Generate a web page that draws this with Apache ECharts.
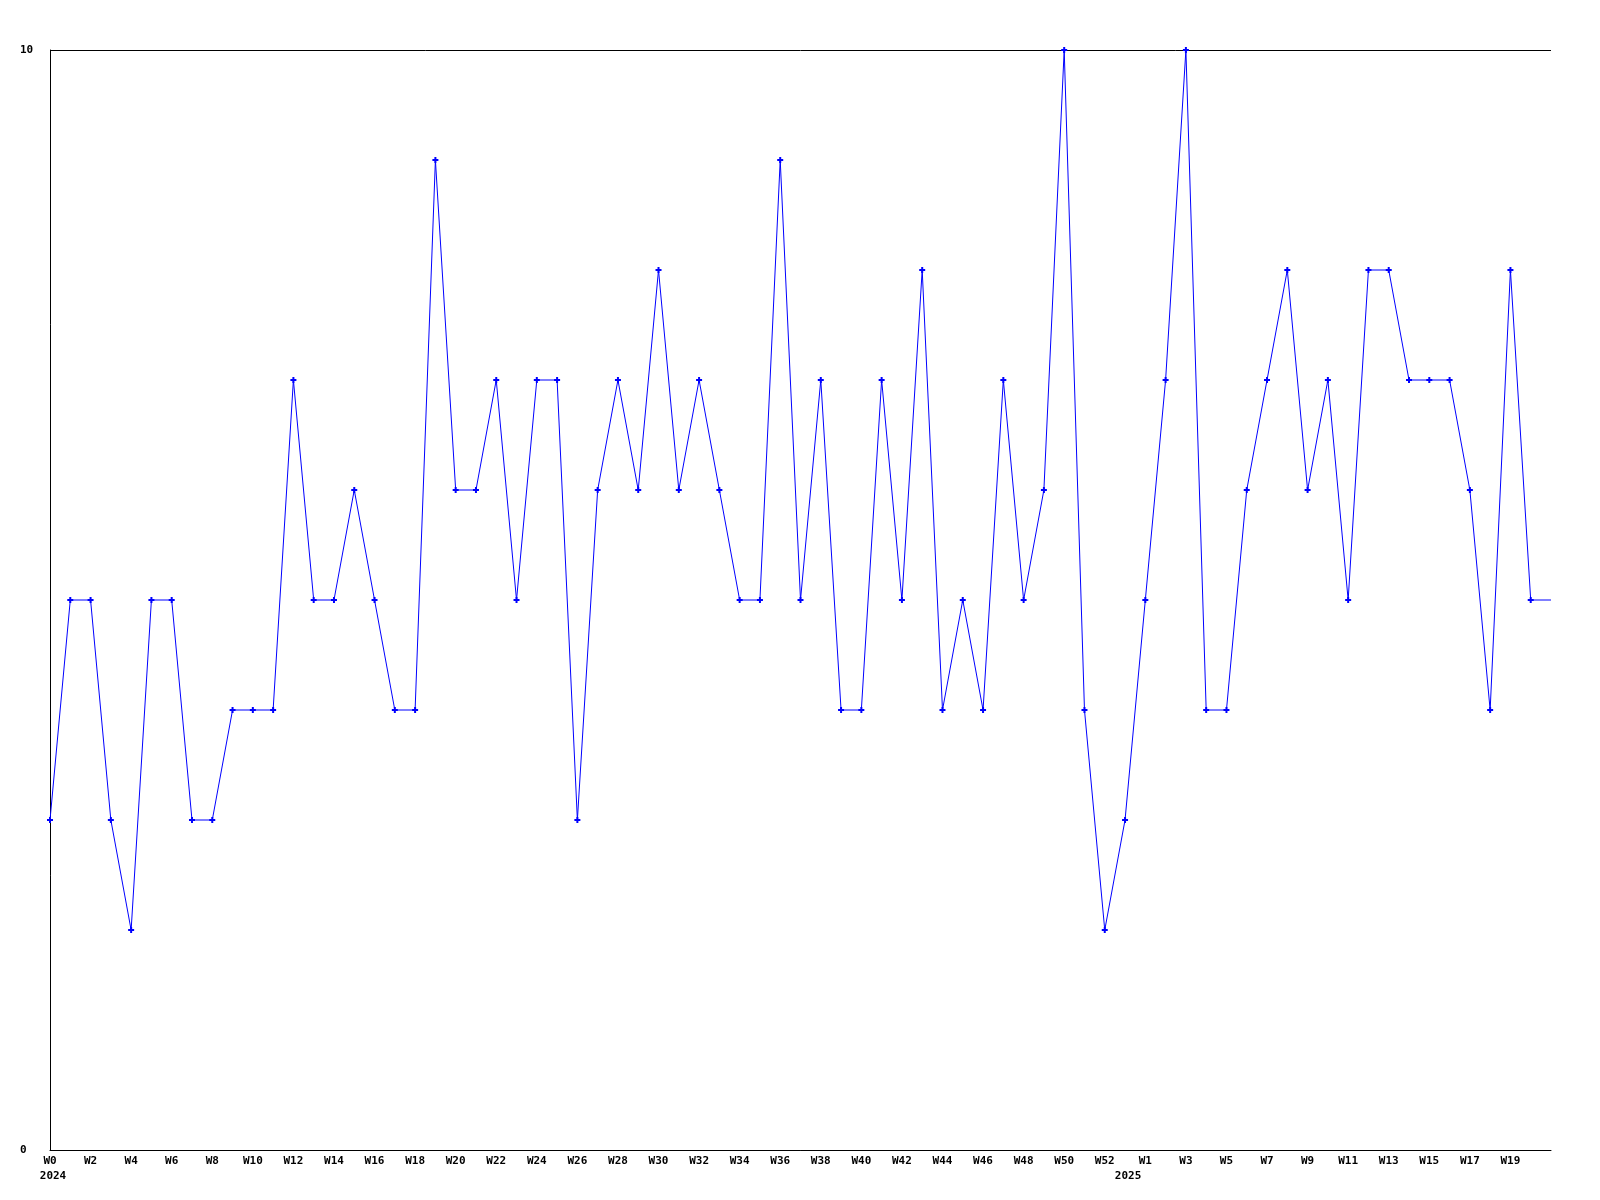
<!DOCTYPE html>
<html>
<head>
<meta charset="utf-8">
<script src="https://cdn.jsdelivr.net/npm/echarts@6/dist/echarts.min.js"></script>
<style>
html,body{margin:0;padding:0;background:#fff;}
#chart{width:1600px;height:1200px;}
</style>
</head>
<body>
<div id="chart"></div>
<script>
var weeks = ['W0','W1','W2','W3','W4','W5','W6','W7','W8','W9','W10','W11','W12','W13','W14','W15','W16','W17','W18','W19','W20','W21','W22','W23','W24','W25','W26','W27','W28','W29','W30','W31','W32','W33','W34','W35','W36','W37','W38','W39','W40','W41','W42','W43','W44','W45','W46','W47','W48','W49','W50','W51','W52',
             'W0','W1','W2','W3','W4','W5','W6','W7','W8','W9','W10','W11','W12','W13','W14','W15','W16','W17','W18','W19','W20','W21'];
var years = ['2024','2024','2024','2024','2024','2024','2024','2024','2024','2024','2024','2024','2024','2024','2024','2024','2024','2024','2024','2024','2024','2024','2024','2024','2024','2024','2024','2024','2024','2024','2024','2024','2024','2024','2024','2024','2024','2024','2024','2024','2024','2024','2024','2024','2024','2024','2024','2024','2024','2024','2024','2024','2024',
             '2025','2025','2025','2025','2025','2025','2025','2025','2025','2025','2025','2025','2025','2025','2025','2025','2025','2025','2025','2025','2025','2025'];
var values = [3,5,5,3,2,5,5,3,3,4,4,4,7,5,5,6,5,4,4,9,6,6,7,5,7,7,3,6,7,6,8,6,7,6,5,5,9,5,7,4,4,7,5,8,4,5,4,7,5,6,10,
              4,2,3,5,7,10,4,4,6,7,8,6,7,5,8,8,7,7,7,6,4,8,5,5];
var yTicks = [0, 10];

var cats = weeks.map(function(w, i){ return w + ' ' + years[i]; });
var yearStart = years.map(function(y, i){ return i === 0 || years[i-1] !== y; });
var lastIdx = weeks.length - 1;

var font = {fontFamily: 'DejaVu Sans Mono', fontWeight: 'bold', fontSize: 11, color: '#000'};

var data = values.map(function(v, i){
  if (i === lastIdx) return {value: v, symbol: 'none'};
  return v;
});

var chart = echarts.init(document.getElementById('chart'), null, {renderer: 'canvas'});
chart.setOption({
  animation: false,
  backgroundColor: '#fff',
  grid: {left: 50, right: 49, top: 50, bottom: 50, containLabel: false},
  xAxis: [{
    type: 'category',
    data: cats,
    boundaryGap: false,
    axisLine: {show: true, lineStyle: {color: '#000', width: 1}},
    axisTick: {show: false},
    splitLine: {show: false},
    axisLabel: Object.assign({
      interval: function(i){ return i % 2 === 0 && i < lastIdx; },
      margin: 6,
      formatter: function(v, i){ return weeks[i]; }
    }, font)
  }, {
    type: 'category',
    data: cats,
    boundaryGap: false,
    position: 'bottom',
    axisLine: {show: false},
    axisTick: {show: false},
    splitLine: {show: false},
    axisLabel: Object.assign({
      interval: function(i){ return yearStart[i]; },
      margin: 21,
      padding: [0, 0, 0, 6],
      formatter: function(v, i){ return years[i]; }
    }, font)
  }],
  yAxis: {
    type: 'value',
    min: yTicks[0],
    max: yTicks[1],
    interval: yTicks[1] - yTicks[0],
    axisLine: {show: true, lineStyle: {color: '#000', width: 1}},
    axisTick: {show: false},
    splitLine: {show: true, lineStyle: {color: '#000', width: 1}},
    axisLabel: Object.assign({align: 'left', margin: 30}, font)
  },
  series: [{
    type: 'line',
    xAxisIndex: 0,
    data: data,
    symbol: 'path://M2,0H4V2H6V4H4V6H2V4H0V2H2Z',
    symbolSize: 6,
    showAllSymbol: true,
    lineStyle: {color: '#0000ff', width: 1},
    itemStyle: {color: '#0000ff'}
  }]
});
</script>
</body>
</html>
